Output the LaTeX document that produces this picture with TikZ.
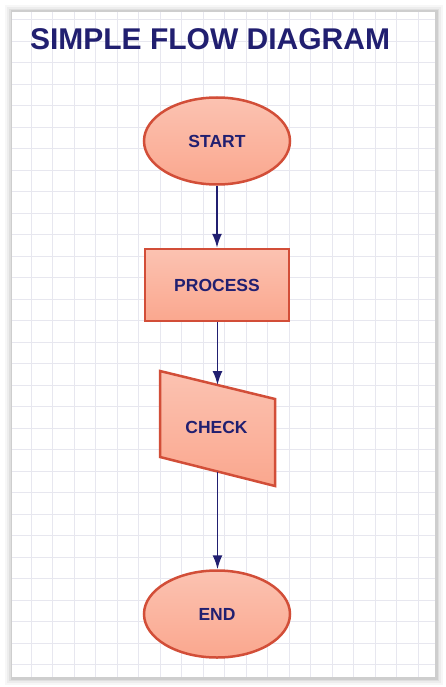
\documentclass[tikz,border=0pt]{standalone}
\usepackage{fontspec}
\setmainfont{Liberation Sans}
\usetikzlibrary{shapes.geometric,arrows.meta}

\definecolor{inkblue}{RGB}{33,31,112}
\definecolor{boxfill}{RGB}{249,145,114}
\definecolor{boxedge}{RGB}{210,78,56}
\definecolor{gridgray}{RGB}{231,231,239}

\begin{document}
\begin{tikzpicture}[x=1pt,y=-1pt,
        gridline/.style={draw=gridgray, line width=0.7pt},
        flowshape/.style={draw=boxedge, line width=2.5pt,
            top color=boxfill!55!white, middle color=boxfill,
            bottom color=boxfill!80!white},
        terminal/.style={flowshape, ellipse, minimum width=146pt,
            minimum height=87pt, inner sep=0pt},
        procbox/.style={flowshape, rectangle, minimum width=144pt,
            minimum height=72pt, inner sep=0pt},
        every node/.style={text=inkblue, font=\fontsize{17.5}{20}\selectfont\bfseries},
        flow/.style={draw=inkblue, line width=1.8pt,
            -{Latex[length=14pt,width=10pt]}}
        ]
    \useasboundingbox (0,0) rectangle (445,687);
    % paper with soft shadow
    \foreach \s/\o in {7/0.03,5/0.04,3/0.06,1.5/0.08}
        \fill[black,opacity=\o] (12-\s,12-\s) rectangle (435+\s+1,677+\s+1);
    \fill[white] (12,12) rectangle (435,677);
    \foreach \i in {1,...,19}
        \draw[gridline] (9.5+21.5*\i,12) -- (9.5+21.5*\i,677);
    \foreach \j in {0,...,30}
        \draw[gridline] (12,19.7+21.5*\j) -- (435,19.7+21.5*\j);

    \node[anchor=base west, font=\fontsize{30}{36}\selectfont\bfseries]
        (title) at (26.5,50) {SIMPLE FLOW DIAGRAM};

    \node[terminal] (start) at (217,141) {START};
    \node[procbox] (process) at (217,285) {PROCESS};
    \draw[flowshape] (160,371) -- (275,399) -- (275,486) -- (160,457) -- cycle;
    \node (check) at (216.5,427) {CHECK};
    \coordinate (check_in) at (217.5,385);
    \coordinate (check_out) at (217.5,471.5);
    \node[terminal] (end) at (217,614) {END};

    \draw[flow] (start) -- (process);
    \draw[flow] (process.south -| check_in) -- (check_in);
    \draw[flow] (check_out) -- (end.north -| check_out);
\end{tikzpicture}
\end{document}
